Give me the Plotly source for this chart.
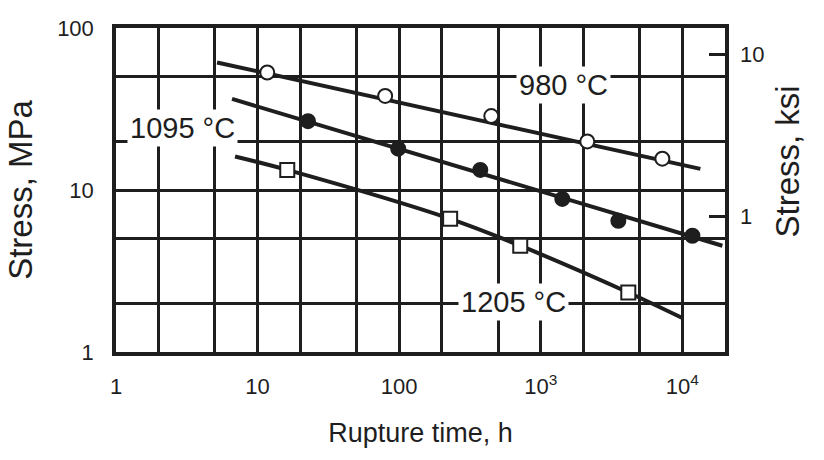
import math
import plotly.graph_objects as go

# ---- data (rupture time in h, stress in MPa) ----
t980 = [11.7, 79.6, 447, 2130, 7220]
s980 = [53.1, 38.1, 28.6, 19.95, 15.6]
fit980_t = [5.17, 13400]
fit980_s = [61.3, 13.5]

t1095 = [22.7, 98.4, 374, 1419, 3530, 11770]
s1095 = [26.6, 18.0, 13.3, 8.81, 6.45, 5.22]
fit1095_t = [6.6, 19170]
fit1095_s = [36.5, 4.53]

t1205 = [16.2, 229, 716, 4150]
s1205 = [13.3, 6.64, 4.53, 2.33]
fit1205_t = [6.93, 16.2, 229, 716, 4150, 10000]
fit1205_s = [16.1, 13.3, 6.64, 4.53, 2.33, 1.62]

x_ticks = [1, 10, 100, 1000, 10000]
x_ticktext = ["1", "10", "100", "10<sup>3</sup>", "10<sup>4</sup>"]
x_minor = [2, 5, 20, 50, 200, 500, 2000, 5000]
y_ticks = [1, 10, 100]
y_minor = [2, 5, 20, 50]
ksi_ticks = [1, 10]
MPA_PER_KSI = 6.895

INK = "#1e1e1e"
FONT = "Liberation Sans, Arial, sans-serif"

fig = go.Figure()

def add_series(ft, fs, t, s, symbol, fill, shape="linear"):
    fig.add_trace(go.Scatter(x=ft, y=fs, mode="lines",
                             line=dict(color=INK, width=4, shape=shape),
                             showlegend=False, hoverinfo="skip"))
    fig.add_trace(go.Scatter(x=t, y=s, mode="markers",
                             marker=dict(symbol=symbol, size=14, color=fill,
                                         line=dict(color=INK, width=2)),
                             showlegend=False))

add_series(fit980_t, fit980_s, t980, s980, "circle", "white")
add_series(fit1095_t, fit1095_s, t1095, s1095, "circle", INK)
add_series(fit1205_t, fit1205_s, t1205, s1205, "square", "white", shape="spline")

# invisible trace for right (ksi) axis
fig.add_trace(go.Scatter(x=[1], y=[1], yaxis="y2", mode="markers",
                         marker=dict(opacity=0), showlegend=False, hoverinfo="skip"))

axis_common = dict(type="log", showline=True, mirror=True, linecolor=INK,
                   linewidth=3.5, gridcolor=INK, gridwidth=2.5, zeroline=False,
                   tickfont=dict(family=FONT, size=22, color=INK), ticks="")

fig.update_layout(
    width=824, height=460,
    margin=dict(l=116, r=99, t=28, b=108),
    paper_bgcolor="white", plot_bgcolor="white",
    font=dict(family=FONT, color=INK),
    xaxis=dict(**axis_common, range=[0, math.log10(20000)],
               tickvals=x_ticks, ticktext=x_ticktext, ticklabelstandoff=12,
               minor=dict(tickvals=x_minor, showgrid=True, gridcolor=INK, gridwidth=2.5),
               title=dict(text="Rupture time, h", font=dict(size=27, color=INK), standoff=26)),
    yaxis=dict(**axis_common, range=[0, 2], tickvals=y_ticks,
               ticktext=[str(v) for v in y_ticks], ticklabelstandoff=14,
               minor=dict(tickvals=y_minor, showgrid=True, gridcolor=INK, gridwidth=2.5),
               title=dict(text="Stress, MPa", font=dict(size=33, color=INK), standoff=16)),
    yaxis2=dict(type="log", overlaying="y", side="right", showgrid=False,
                range=[math.log10(1 / MPA_PER_KSI), math.log10(100 / MPA_PER_KSI)],
                tickvals=ksi_ticks, ticktext=[str(v) for v in ksi_ticks],
                ticks="inside", ticklen=16, tickwidth=2.5, tickcolor=INK,
                ticklabelstandoff=14, showline=False, zeroline=False,
                tickfont=dict(family=FONT, size=22, color=INK)),
)

labels = [("980 °C", 1440, 44.5), ("1095 °C", 2.93, 24.1), ("1205 °C", 640, 2.04)]
for txt, lx, ly in labels:
    fig.add_annotation(x=math.log10(lx), y=math.log10(ly), xref="x", yref="y",
                       text=txt, showarrow=False, bgcolor="white", borderpad=2,
                       font=dict(family=FONT, size=29, color=INK))

fig.add_annotation(x=(808 - 116) / 609, y=(352 - 162) / 324, xref="paper", yref="paper",
                   text="Stress, ksi", textangle=-90, showarrow=False,
                   font=dict(family=FONT, size=33, color=INK))

fig.write_html("out.html")
